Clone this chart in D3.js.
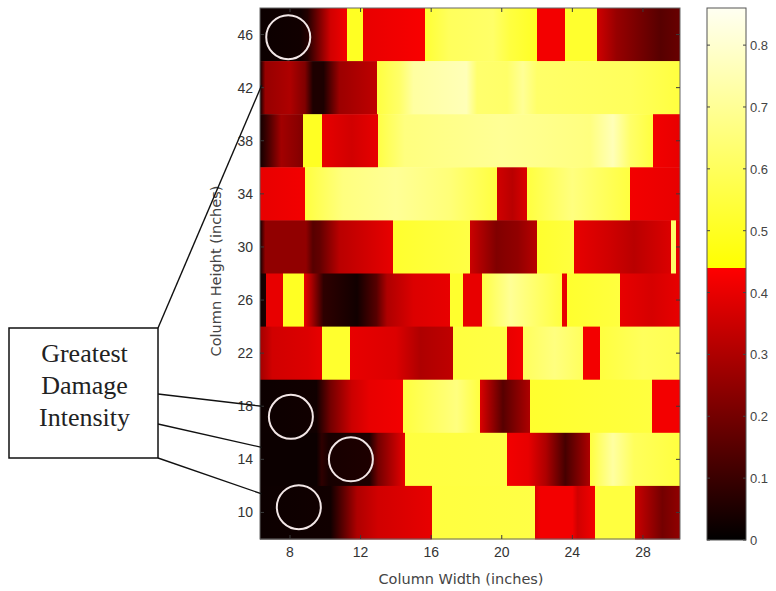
<!DOCTYPE html>
<html>
<head>
<meta charset="utf-8">
<script src="https://cdn.jsdelivr.net/npm/d3@7"></script>
<style>
  html, body { margin: 0; padding: 0; background: #fff; }
  svg { display: block; }
</style>
</head>
<body>
<svg id="chart" width="776" height="591"></svg>
<script>
// ---------------- DATA ----------------
const heights = [46, 42, 38, 34, 30, 26, 22, 18, 14, 10];          // column height (inches), row centres
const xTicks = [8, 12, 16, 20, 24, 28];                            // column width ticks
const yTicks = [10, 14, 18, 22, 26, 30, 34, 38, 42, 46];
const cbTicks = [0, 0.1, 0.2, 0.3, 0.4, 0.5, 0.6, 0.7, 0.8];
const cbLabels = ["0", "0.1", "0.2", "0.3", "0.4", "0.5", "0.6", "0.7", "0.8"];
const widthRange = [6.3, 30.1];
const heightRange = [8, 48];
const intensityRange = [0, 0.86];
const colorBreak = 0.44;

// damage intensity along each row: [column width (in), intensity]; repeated widths = sharp edges
const row46 = [[6.3,0.02],[8.6,0.03],[9.0,0.06],[10.3,0.36],[11.23,0.42],[11.23,0.5],[12.14,0.5],[12.14,0.4],[15.65,0.43],[15.65,0.53],[17.0,0.6],[19.5,0.62],[20.5,0.55],[21.99,0.5],[21.99,0.42],[23.58,0.42],[23.58,0.52],[25.39,0.52],[25.39,0.36],[26.5,0.26],[29.0,0.15],[30.1,0.18]];
const row42 = [[6.3,0.03],[6.6,0.26],[8.0,0.3],[8.85,0.22],[9.3,0.05],[9.9,0.05],[10.8,0.27],[12.93,0.33],[12.93,0.55],[14.2,0.62],[15.0,0.72],[18.0,0.76],[18.6,0.63],[20.3,0.62],[21.2,0.7],[22.0,0.62],[27.3,0.6],[30.1,0.55]];
const row38 = [[6.3,0.03],[6.9,0.15],[7.5,0.28],[8.4,0.24],[8.74,0.22],[8.74,0.5],[9.81,0.5],[9.81,0.4],[11.5,0.36],[12.99,0.4],[12.99,0.56],[14.5,0.66],[20.0,0.7],[25.0,0.66],[26.3,0.76],[27.3,0.62],[28.55,0.55],[28.55,0.42],[30.1,0.4]];
const row34 = [[6.3,0.4],[8.85,0.42],[8.85,0.55],[11.0,0.66],[14.0,0.7],[17.0,0.65],[19.73,0.55],[19.73,0.36],[20.6,0.32],[21.43,0.38],[21.43,0.55],[24.0,0.66],[27.26,0.55],[27.26,0.42],[30.1,0.4]];
const row30 = [[6.3,0.03],[6.6,0.25],[8.9,0.25],[9.3,0.15],[9.7,0.17],[10.8,0.32],[13.84,0.4],[13.84,0.52],[18.2,0.56],[18.2,0.35],[19.7,0.22],[20.9,0.25],[22.0,0.32],[22.0,0.52],[24.1,0.55],[24.1,0.4],[26.0,0.36],[27.5,0.32],[29.6,0.38],[29.6,0.62],[29.85,0.62],[29.85,0.4],[30.1,0.4]];
const row26 = [[6.3,0.02],[6.64,0.05],[6.64,0.4],[7.6,0.4],[7.6,0.5],[8.8,0.5],[8.8,0.4],[9.2,0.3],[9.9,0.08],[11.8,0.03],[12.9,0.15],[13.5,0.3],[15.0,0.38],[17.06,0.4],[17.06,0.52],[17.8,0.52],[17.8,0.4],[18.88,0.4],[18.88,0.56],[20.5,0.7],[22.0,0.62],[23.41,0.55],[23.41,0.4],[23.69,0.4],[23.69,0.52],[26.7,0.55],[26.7,0.4],[28.5,0.37],[30.1,0.4]];
const row22 = [[6.3,0.28],[7.0,0.36],[9.0,0.38],[9.81,0.4],[9.81,0.52],[11.4,0.52],[11.4,0.4],[14.0,0.38],[15.4,0.3],[17.23,0.33],[17.23,0.55],[20.29,0.56],[20.29,0.4],[21.2,0.42],[21.2,0.6],[23.0,0.66],[24.6,0.6],[24.6,0.42],[25.56,0.42],[25.56,0.55],[28.0,0.6],[30.1,0.58]];
const row18 = [[6.3,0.02],[9.5,0.03],[10.3,0.2],[11.5,0.35],[12.5,0.4],[14.4,0.42],[14.4,0.55],[17.46,0.66],[18.76,0.55],[18.76,0.38],[20.07,0.15],[21.6,0.3],[21.6,0.52],[28.5,0.55],[28.5,0.42],[30.1,0.42]];
const row14 = [[6.3,0.02],[9.5,0.02],[9.8,0.08],[10.2,0.04],[12.5,0.05],[13.0,0.2],[14.52,0.4],[14.52,0.55],[20.29,0.56],[20.29,0.42],[21.5,0.4],[22.5,0.3],[23.6,0.12],[25.0,0.3],[25.0,0.55],[26.3,0.72],[27.5,0.6],[30.1,0.55]];
const row10 = [[6.3,0.02],[10.3,0.03],[11.8,0.3],[13.0,0.36],[16.05,0.4],[16.05,0.55],[21.88,0.56],[21.88,0.38],[22.2,0.42],[24.0,0.42],[24.3,0.36],[25.28,0.42],[25.28,0.55],[27.55,0.55],[27.55,0.35],[29.1,0.2],[30.1,0.25]];
const rows = [row46, row42, row38, row34, row30, row26, row22, row18, row14, row10];

// circled regions of greatest damage: [column width, column height]
const circled = [[7.9, 45.8], [8.05, 17.2], [11.45, 14.0], [8.5, 10.4]];
const noteLines = ["Greatest", "Damage", "Intensity"];

// ---------------- DRAWING ----------------
const svg = d3.select("#chart");
const defs = svg.append("defs");

const plot = { left: 260, right: 680, top: 8, bottom: 539 };
const x = d3.scaleLinear().domain(widthRange).range([plot.left, plot.right]);
const y = d3.scaleLinear().domain(heightRange).range([plot.bottom, plot.top]);

// colormap: black->red below break, yellow->cream above
const lowColor = d3.scaleLinear().domain([0, colorBreak]).range(["#000000", "#ff0000"]).clamp(true);
const highColor = d3.scaleLinear().domain([colorBreak, intensityRange[1]]).range(["#ffff00", "#fffff2"]).clamp(true);
const color = v => v < colorBreak ? lowColor(v) : highColor(v);

// heatmap rows
rows.forEach((stops, i) => {
  const h = heights[i];
  const id = "g" + h;
  const g = defs.append("linearGradient").attr("id", id)
    .attr("gradientUnits", "userSpaceOnUse")
    .attr("x1", x(widthRange[0])).attr("x2", x(widthRange[1]))
    .attr("y1", 0).attr("y2", 0);
  const span = x(widthRange[1]) - x(widthRange[0]);
  stops.forEach(s => {
    g.append("stop")
      .attr("offset", ((x(s[0]) - x(widthRange[0])) / span).toFixed(5))
      .attr("stop-color", color(s[1]));
  });
  svg.append("rect")
    .attr("x", x(widthRange[0]))
    .attr("y", y(h + 2))
    .attr("width", span)
    .attr("height", y(h - 2) - y(h + 2) + 0.5)
    .attr("fill", `url(#${id})`);
});

// axes box + ticks (inside, MATLAB style)
const axisColor = "#3a3a3a";
svg.append("rect")
  .attr("x", plot.left).attr("y", plot.top)
  .attr("width", plot.right - plot.left).attr("height", plot.bottom - plot.top)
  .attr("fill", "none").attr("stroke", "#666").attr("stroke-width", 1);

const tl = 4;
xTicks.forEach(t => {
  svg.append("line").attr("x1", x(t)).attr("x2", x(t)).attr("y1", plot.bottom).attr("y2", plot.bottom - tl).attr("stroke", axisColor);
  svg.append("line").attr("x1", x(t)).attr("x2", x(t)).attr("y1", plot.top).attr("y2", plot.top + tl).attr("stroke", axisColor);
});
yTicks.forEach(t => {
  svg.append("line").attr("x1", plot.left).attr("x2", plot.left + tl).attr("y1", y(t)).attr("y2", y(t)).attr("stroke", axisColor);
  svg.append("line").attr("x1", plot.right).attr("x2", plot.right - tl).attr("y1", y(t)).attr("y2", y(t)).attr("stroke", axisColor);
});

const labelFont = "'Liberation Sans', Arial, sans-serif";
const titleFont = "'DejaVu Sans', Verdana, sans-serif";
svg.append("g").selectAll("text").data(xTicks).join("text")
  .attr("x", d => x(d)).attr("y", 557)
  .attr("text-anchor", "middle")
  .attr("font-family", labelFont).attr("font-size", 14).attr("fill", "#333")
  .text(d => d);
svg.append("g").selectAll("text").data(yTicks).join("text")
  .attr("x", 253).attr("y", d => y(d) + 5)
  .attr("text-anchor", "end")
  .attr("font-family", labelFont).attr("font-size", 14).attr("fill", "#333")
  .text(d => d);

svg.append("text")
  .attr("x", 461).attr("y", 584)
  .attr("text-anchor", "middle")
  .attr("font-family", titleFont).attr("font-size", 14.5).attr("fill", "#444")
  .text("Column Width (inches)");
svg.append("text")
  .attr("transform", "translate(221,271) rotate(-90)")
  .attr("text-anchor", "middle")
  .attr("font-family", titleFont).attr("font-size", 14.5).attr("fill", "#444")
  .text("Column Height (inches)");

// colorbar
const cb = { left: 707, right: 746, top: 8, bottom: 540 };
const cy = d3.scaleLinear().domain(intensityRange).range([cb.bottom, cb.top]);
const cbg = defs.append("linearGradient").attr("id", "cbgrad")
  .attr("gradientUnits", "userSpaceOnUse")
  .attr("x1", 0).attr("x2", 0).attr("y1", cb.bottom).attr("y2", cb.top);
const cbSpan = cb.bottom - cb.top;
[[0, 0], [colorBreak - 0.0001, colorBreak - 0.0001], [colorBreak, colorBreak], [intensityRange[1], intensityRange[1]]].forEach(s => {
  cbg.append("stop").attr("offset", ((cb.bottom - cy(s[0])) / cbSpan).toFixed(5)).attr("stop-color", color(s[1]));
});
svg.append("rect")
  .attr("x", cb.left).attr("y", cb.top)
  .attr("width", cb.right - cb.left).attr("height", cbSpan)
  .attr("fill", "url(#cbgrad)")
  .attr("stroke", "#555").attr("stroke-width", 1);
cbTicks.forEach(t => {
  svg.append("line").attr("x1", cb.left).attr("x2", cb.left + 3).attr("y1", cy(t)).attr("y2", cy(t)).attr("stroke", "#444");
  svg.append("line").attr("x1", cb.right).attr("x2", cb.right - 3).attr("y1", cy(t)).attr("y2", cy(t)).attr("stroke", "#444");
});
svg.append("g").selectAll("text").data(cbTicks).join("text")
  .attr("x", 750).attr("y", d => cy(d) + 5)
  .attr("font-family", labelFont).attr("font-size", 13).attr("fill", "#444")
  .text((d, i) => cbLabels[i]);

// annotation: circles
svg.append("g").selectAll("circle").data(circled).join("circle")
  .attr("cx", d => x(d[0])).attr("cy", d => y(d[1]))
  .attr("r", 22)
  .attr("fill", "none").attr("stroke", "#f2e6e6").attr("stroke-width", 2);

// annotation: pointer lines
const box = { left: 9, top: 328, right: 158, bottom: 458 };
const pointers = [
  [[box.right, box.top], [x(6.4), y(42.2)]],
  [[box.right, 394], [x(6.4), y(18.0)]],
  [[box.right, 424], [x(6.4), y(14.9)]],
  [[box.right, box.bottom], [x(6.4), y(11.4)]]
];
pointers.forEach(p => {
  svg.append("line")
    .attr("x1", p[0][0]).attr("y1", p[0][1])
    .attr("x2", p[1][0]).attr("y2", p[1][1])
    .attr("stroke", "#111").attr("stroke-width", 1.4);
});

svg.append("rect")
  .attr("x", box.left).attr("y", box.top)
  .attr("width", box.right - box.left).attr("height", box.bottom - box.top)
  .attr("fill", "#fff").attr("stroke", "#111").attr("stroke-width", 1.5);
svg.append("g").selectAll("text").data(noteLines).join("text")
  .attr("x", (box.left + box.right) / 2 + 1)
  .attr("y", (d, i) => 362 + i * 32)
  .attr("text-anchor", "middle")
  .attr("font-family", "'Liberation Serif', 'Times New Roman', serif")
  .attr("font-size", 26).attr("fill", "#222")
  .text(d => d);
</script>
</body>
</html>
